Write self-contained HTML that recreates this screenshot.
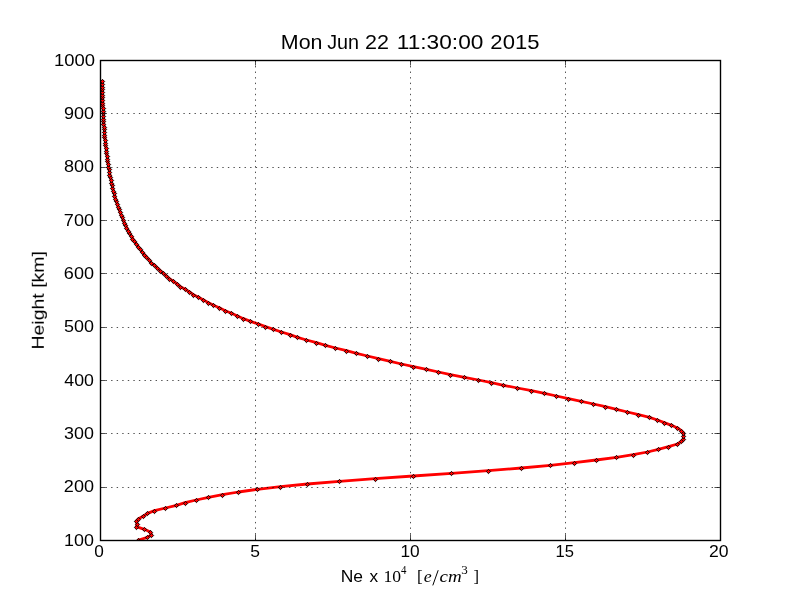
<!DOCTYPE html>
<html><head><meta charset="utf-8"><style>
html,body{margin:0;padding:0;background:#fff;}
svg{display:block;}
text{font-family:"Liberation Sans",sans-serif;fill:#000;}
.s{font-family:"Liberation Serif",serif;}
.i{font-family:"Liberation Serif",serif;font-style:italic;}
</style></head><body>
<svg width="800" height="600" viewBox="0 0 800 600">
<defs><path id="d" d="M0 -2.15L2.15 0L0 2.15L-2.15 0Z" fill="#f00" stroke="#000" stroke-width="0.95"/><clipPath id="c"><rect x="100" y="60" width="620" height="480"/></clipPath></defs>
<rect width="800" height="600" fill="#fff"/>
<g clip-path="url(#c)">
<polyline points="138.5,540 147.5,537.33 151.5,534.67 150.4,532 144.4,529.33 136.3,526.67 137.3,524 136,521.33 138.5,518.67 143.5,516 147.5,513.33 154.5,510.67 165.4,508 176.5,505.33 185,502.67 196.25,500 208.5,497.33 222.5,494.67 238.5,492 257.4,489.33 280.6,486.67 307.5,484 339.4,481.33 375,478.67 413.3,476 451.6,473.33 488.4,470.67 521.4,468 550.3,465.33 574.5,462.67 596.25,460 616.5,457.33 633.3,454.67 647.4,452 658.4,449.33 668.5,446.67 677.5,444 681.4,441.33 683.5,438.67 683.8,436 683.6,433.33 681.5,430.67 677.5,428 671.5,425.33 664.3,422.67 657.4,420 649.5,417.33 638.5,414.67 627.5,412 616.5,409.33 605.4,406.67 593.5,404 581.25,401.33 568.5,398.67 556.5,396 544.5,393.33 531.5,390.67 517.5,388 503.5,385.33 491.5,382.67 478.5,380 464.4,377.33 450.5,374.67 438.5,372 426.5,369.33 413.5,366.67 401.5,364 390.4,361.33 378.5,358.67 367.5,356 356.5,353.33 346.5,350.67 335.5,348 325.5,345.33 316.5,342.67 306.5,340 297.5,337.33 290,334.67 281.5,332 273.5,329.33 265.5,326.67 258.5,324 250.5,321.33 243.5,318.67 237.5,316 231.5,313.33 225.3,310.67 219.8,308 213.5,305.33 208.5,302.67 203.5,300 198.5,297.33 193.5,294.67 189.5,292 185.2,289.33 180.5,286.67 177.2,284 173.5,281.33 169.5,278.67 166.5,276 163.5,273.33 160.5,270.67 157.5,268 154.5,265.33 151,262.67 149.3,260 146.88,257.33 144.58,254.67 142.39,252 140.31,249.33 138.33,246.67 136.45,244 134.66,241.33 132.96,238.67 131.35,236 129.82,233.33 128.37,230.67 126.99,228 125.67,225.33 124.43,222.67 123.24,220 122.12,217.33 121.05,214.67 120.03,212 119.06,209.33 118.14,206.67 117.26,204 116.43,201.33 115.63,198.67 114.87,196 114.15,193.33 113.47,190.67 112.81,188 112.19,185.33 111.59,182.67 111.03,180 110.49,177.33 109.98,174.67 109.49,172 109.02,169.33 108.58,166.67 108.16,164 107.76,161.33 107.38,158.67 107.02,156 106.67,153.33 106.35,150.67 106.04,148 105.75,145.33 105.47,142.67 105.21,140 104.97,137.33 104.74,134.67 104.52,132 104.31,129.33 104.12,126.67 103.94,124 103.78,121.33 103.62,118.67 103.47,116 103.34,113.33 103.22,110.67 103.1,108 103,105.33 102.91,102.67 102.82,100 102.75,97.33 102.68,94.67 102.63,92 102.58,89.33 102.55,86.67 102.52,84 102.51,81.33" fill="none" stroke="#f00" stroke-width="2.78" stroke-linejoin="round" stroke-linecap="square"/>
<use href="#d" x="138.5" y="540.5"/><use href="#d" x="147.5" y="537.5"/><use href="#d" x="151.5" y="535.5"/><use href="#d" x="150.5" y="532.5"/><use href="#d" x="144.5" y="529.5"/><use href="#d" x="136.5" y="527.5"/><use href="#d" x="137.5" y="524.5"/><use href="#d" x="136.5" y="521.5"/><use href="#d" x="138.5" y="519.5"/><use href="#d" x="143.5" y="516.5"/><use href="#d" x="147.5" y="513.5"/><use href="#d" x="154.5" y="511.5"/><use href="#d" x="165.5" y="508.5"/><use href="#d" x="176.5" y="505.5"/><use href="#d" x="185.5" y="503.5"/><use href="#d" x="196.5" y="500.5"/><use href="#d" x="208.5" y="497.5"/><use href="#d" x="222.5" y="495.5"/><use href="#d" x="238.5" y="492.5"/><use href="#d" x="257.5" y="489.5"/><use href="#d" x="280.5" y="487.5"/><use href="#d" x="307.5" y="484.5"/><use href="#d" x="339.5" y="481.5"/><use href="#d" x="375.5" y="479.5"/><use href="#d" x="413.5" y="476.5"/><use href="#d" x="451.5" y="473.5"/><use href="#d" x="488.5" y="471.5"/><use href="#d" x="521.5" y="468.5"/><use href="#d" x="550.5" y="465.5"/><use href="#d" x="574.5" y="463.5"/><use href="#d" x="596.5" y="460.5"/><use href="#d" x="616.5" y="457.5"/><use href="#d" x="633.5" y="455.5"/><use href="#d" x="647.5" y="452.5"/><use href="#d" x="658.5" y="449.5"/><use href="#d" x="668.5" y="447.5"/><use href="#d" x="677.5" y="444.5"/><use href="#d" x="681.5" y="441.5"/><use href="#d" x="683.5" y="439.5"/><use href="#d" x="683.5" y="436.5"/><use href="#d" x="683.5" y="433.5"/><use href="#d" x="681.5" y="431.5"/><use href="#d" x="677.5" y="428.5"/><use href="#d" x="671.5" y="425.5"/><use href="#d" x="664.5" y="423.5"/><use href="#d" x="657.5" y="420.5"/><use href="#d" x="649.5" y="417.5"/><use href="#d" x="638.5" y="415.5"/><use href="#d" x="627.5" y="412.5"/><use href="#d" x="616.5" y="409.5"/><use href="#d" x="605.5" y="407.5"/><use href="#d" x="593.5" y="404.5"/><use href="#d" x="581.5" y="401.5"/><use href="#d" x="568.5" y="399.5"/><use href="#d" x="556.5" y="396.5"/><use href="#d" x="544.5" y="393.5"/><use href="#d" x="531.5" y="391.5"/><use href="#d" x="517.5" y="388.5"/><use href="#d" x="503.5" y="385.5"/><use href="#d" x="491.5" y="383.5"/><use href="#d" x="478.5" y="380.5"/><use href="#d" x="464.5" y="377.5"/><use href="#d" x="450.5" y="375.5"/><use href="#d" x="438.5" y="372.5"/><use href="#d" x="426.5" y="369.5"/><use href="#d" x="413.5" y="367.5"/><use href="#d" x="401.5" y="364.5"/><use href="#d" x="390.5" y="361.5"/><use href="#d" x="378.5" y="359.5"/><use href="#d" x="367.5" y="356.5"/><use href="#d" x="356.5" y="353.5"/><use href="#d" x="346.5" y="351.5"/><use href="#d" x="335.5" y="348.5"/><use href="#d" x="325.5" y="345.5"/><use href="#d" x="316.5" y="343.5"/><use href="#d" x="306.5" y="340.5"/><use href="#d" x="297.5" y="337.5"/><use href="#d" x="290.5" y="335.5"/><use href="#d" x="281.5" y="332.5"/><use href="#d" x="273.5" y="329.5"/><use href="#d" x="265.5" y="327.5"/><use href="#d" x="258.5" y="324.5"/><use href="#d" x="250.5" y="321.5"/><use href="#d" x="243.5" y="319.5"/><use href="#d" x="237.5" y="316.5"/><use href="#d" x="231.5" y="313.5"/><use href="#d" x="225.5" y="311.5"/><use href="#d" x="219.5" y="308.5"/><use href="#d" x="213.5" y="305.5"/><use href="#d" x="208.5" y="303.5"/><use href="#d" x="203.5" y="300.5"/><use href="#d" x="198.5" y="297.5"/><use href="#d" x="193.5" y="295.5"/><use href="#d" x="189.5" y="292.5"/><use href="#d" x="185.5" y="289.5"/><use href="#d" x="180.5" y="287.5"/><use href="#d" x="177.5" y="284.5"/><use href="#d" x="173.5" y="281.5"/><use href="#d" x="169.5" y="279.5"/><use href="#d" x="166.5" y="276.5"/><use href="#d" x="163.5" y="273.5"/><use href="#d" x="160.5" y="271.5"/><use href="#d" x="157.5" y="268.5"/><use href="#d" x="154.5" y="265.5"/><use href="#d" x="151.5" y="263.5"/><use href="#d" x="149.5" y="260.5"/><use href="#d" x="146.5" y="257.5"/><use href="#d" x="144.5" y="255.5"/><use href="#d" x="142.5" y="252.5"/><use href="#d" x="140.5" y="249.5"/><use href="#d" x="138.5" y="247.5"/><use href="#d" x="136.5" y="244.5"/><use href="#d" x="134.5" y="241.5"/><use href="#d" x="132.5" y="239.5"/><use href="#d" x="131.5" y="236.5"/><use href="#d" x="129.5" y="233.5"/><use href="#d" x="128.5" y="231.5"/><use href="#d" x="126.5" y="228.5"/><use href="#d" x="125.5" y="225.5"/><use href="#d" x="124.5" y="223.5"/><use href="#d" x="123.5" y="220.5"/><use href="#d" x="122.5" y="217.5"/><use href="#d" x="121.5" y="215.5"/><use href="#d" x="120.5" y="212.5"/><use href="#d" x="119.5" y="209.5"/><use href="#d" x="118.5" y="207.5"/><use href="#d" x="117.5" y="204.5"/><use href="#d" x="116.5" y="201.5"/><use href="#d" x="115.5" y="199.5"/><use href="#d" x="114.5" y="196.5"/><use href="#d" x="114.5" y="193.5"/><use href="#d" x="113.5" y="191.5"/><use href="#d" x="112.5" y="188.5"/><use href="#d" x="112.5" y="185.5"/><use href="#d" x="111.5" y="183.5"/><use href="#d" x="111.5" y="180.5"/><use href="#d" x="110.5" y="177.5"/><use href="#d" x="109.5" y="175.5"/><use href="#d" x="109.5" y="172.5"/><use href="#d" x="109.5" y="169.5"/><use href="#d" x="108.5" y="167.5"/><use href="#d" x="108.5" y="164.5"/><use href="#d" x="107.5" y="161.5"/><use href="#d" x="107.5" y="159.5"/><use href="#d" x="107.5" y="156.5"/><use href="#d" x="106.5" y="153.5"/><use href="#d" x="106.5" y="151.5"/><use href="#d" x="106.5" y="148.5"/><use href="#d" x="105.5" y="145.5"/><use href="#d" x="105.5" y="143.5"/><use href="#d" x="105.5" y="140.5"/><use href="#d" x="104.5" y="137.5"/><use href="#d" x="104.5" y="135.5"/><use href="#d" x="104.5" y="132.5"/><use href="#d" x="104.5" y="129.5"/><use href="#d" x="104.5" y="127.5"/><use href="#d" x="103.5" y="124.5"/><use href="#d" x="103.5" y="121.5"/><use href="#d" x="103.5" y="119.5"/><use href="#d" x="103.5" y="116.5"/><use href="#d" x="103.5" y="113.5"/><use href="#d" x="103.5" y="111.5"/><use href="#d" x="103.5" y="108.5"/><use href="#d" x="102.5" y="105.5"/><use href="#d" x="102.5" y="103.5"/><use href="#d" x="102.5" y="100.5"/><use href="#d" x="102.5" y="97.5"/><use href="#d" x="102.5" y="95.5"/><use href="#d" x="102.5" y="92.5"/><use href="#d" x="102.5" y="89.5"/><use href="#d" x="102.5" y="87.5"/><use href="#d" x="102.5" y="84.5"/><use href="#d" x="102.5" y="81.5"/>
</g>
<path d="M255.5 540V60M410.5 540V60M565.5 540V60M100 113.5H720M100 167.5H720M100 220.5H720M100 273.5H720M100 327.5H720M100 380.5H720M100 433.5H720M100 487.5H720" stroke="#000" stroke-width="0.69" stroke-dasharray="1.39 4.17" fill="none"/>
<path d="M100.5 540v-5.56M100.5 60v5.56M255.5 540v-5.56M255.5 60v5.56M410.5 540v-5.56M410.5 60v5.56M565.5 540v-5.56M565.5 60v5.56M720.5 540v-5.56M720.5 60v5.56M100 60.5h5.56M720 60.5h-5.56M100 113.5h5.56M720 113.5h-5.56M100 167.5h5.56M720 167.5h-5.56M100 220.5h5.56M720 220.5h-5.56M100 273.5h5.56M720 273.5h-5.56M100 327.5h5.56M720 327.5h-5.56M100 380.5h5.56M720 380.5h-5.56M100 433.5h5.56M720 433.5h-5.56M100 487.5h5.56M720 487.5h-5.56M100 540.5h5.56M720 540.5h-5.56" stroke="#000" stroke-width="0.69" fill="none"/>
<rect x="100.5" y="60.5" width="620" height="480" fill="none" stroke="#000" stroke-width="1.39"/>
<g opacity="0.999"><text x="64.14" y="545.6" font-size="17" textLength="29.86" lengthAdjust="spacingAndGlyphs">100</text><text x="63.89" y="492.27" font-size="17" textLength="30.11" lengthAdjust="spacingAndGlyphs">200</text><text x="64.12" y="438.93" font-size="17" textLength="29.88" lengthAdjust="spacingAndGlyphs">300</text><text x="64.39" y="385.6" font-size="17" textLength="29.6" lengthAdjust="spacingAndGlyphs">400</text><text x="64.08" y="332.27" font-size="17" textLength="29.92" lengthAdjust="spacingAndGlyphs">500</text><text x="63.88" y="278.93" font-size="17" textLength="30.12" lengthAdjust="spacingAndGlyphs">600</text><text x="63.87" y="225.6" font-size="17" textLength="30.13" lengthAdjust="spacingAndGlyphs">700</text><text x="64.02" y="172.27" font-size="17" textLength="29.98" lengthAdjust="spacingAndGlyphs">800</text><text x="63.96" y="118.93" font-size="17" textLength="30.05" lengthAdjust="spacingAndGlyphs">900</text><text x="53.9" y="65.6" font-size="17" textLength="41.03" lengthAdjust="spacingAndGlyphs">1000</text><text x="94.33" y="556.8" font-size="17" textLength="9.6" lengthAdjust="spacingAndGlyphs">0</text><text x="250.3" y="556.8" font-size="17" textLength="9.74" lengthAdjust="spacingAndGlyphs">5</text><text x="400.43" y="556.8" font-size="17" textLength="19.24" lengthAdjust="spacingAndGlyphs">10</text><text x="555.49" y="556.8" font-size="17" textLength="18.46" lengthAdjust="spacingAndGlyphs">15</text><text x="709.02" y="556.8" font-size="17" textLength="19.57" lengthAdjust="spacingAndGlyphs">20</text><text x="280.84" y="48.9" font-size="19.8" textLength="41.65" lengthAdjust="spacingAndGlyphs">Mon</text><text x="327.19" y="48.9" font-size="19.8" textLength="31.89" lengthAdjust="spacingAndGlyphs">Jun</text><text x="365.12" y="48.9" font-size="19.8" textLength="23.97" lengthAdjust="spacingAndGlyphs">22</text><text x="396.81" y="48.9" font-size="19.8" textLength="86.56" lengthAdjust="spacingAndGlyphs">11:30:00</text><text x="490.39" y="48.9" font-size="19.8" textLength="49.03" lengthAdjust="spacingAndGlyphs">2015</text><text x="340.77" y="581.9" font-size="17.2" textLength="22.31" lengthAdjust="spacingAndGlyphs">Ne</text><text x="369.56" y="581.9" font-size="17.2" textLength="8.63" lengthAdjust="spacingAndGlyphs">x</text><text x="383.45" y="581.9" font-size="17.2" class="s" textLength="17.62" lengthAdjust="spacingAndGlyphs">10</text><text x="401.04" y="573.8" font-size="11.7" class="s" textLength="5.43" lengthAdjust="spacingAndGlyphs">4</text><text x="417.03" y="581.9" font-size="17.2" class="s" textLength="5.68" lengthAdjust="spacingAndGlyphs">[</text><text x="423.7" y="581.9" font-size="17.2" class="i" textLength="7.95" lengthAdjust="spacingAndGlyphs">e</text><text x="439.61" y="581.9" font-size="17.2" class="i" textLength="22.18" lengthAdjust="spacingAndGlyphs">cm</text><text x="461.27" y="573.8" font-size="11.7" class="s" textLength="6.54" lengthAdjust="spacingAndGlyphs">3</text><text x="473.5" y="581.9" font-size="17.2" class="s" textLength="5.53" lengthAdjust="spacingAndGlyphs">]</text>
<text transform="translate(43.8,348) rotate(-90)" x="-1.6" y="0" font-size="16.8" textLength="98.59" lengthAdjust="spacingAndGlyphs">Height [km]</text>
<path d="M432.8 585.4L438.2 570.2" stroke="#000" stroke-width="1.0"/></g>
</svg>
</body></html>
